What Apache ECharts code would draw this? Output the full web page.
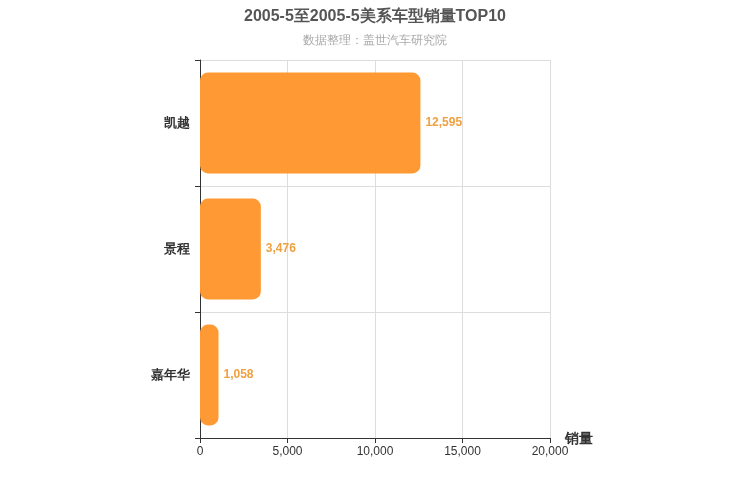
<!DOCTYPE html>
<html><head><meta charset="utf-8">
<script src="https://cdn.jsdelivr.net/npm/echarts@6/dist/echarts.min.js"></script>
</head><body style="margin:0">
<div id="c" style="width:750px;height:500px"></div>
<script>
const categories = ['凯越', '景程', '嘉年华'];
const values = [12595, 3476, 1058];
const xTicks = [0, 5000, 10000, 15000, 20000];
const chart = echarts.init(document.getElementById('c'));
chart.setOption({
  title: {
    text: '2005-5至2005-5美系车型销量TOP10', subtext: '数据整理：盖世汽车研究院', left: 'center', top: 4,
    textStyle: {fontSize: 16, fontWeight: 'bold', color: '#555'},
    subtextStyle: {fontSize: 12, color: '#aaa'}, itemGap: 10
  },
  grid: {left: 200, right: 200, top: 60, bottom: 62},
  xAxis: {
    type: 'value', min: xTicks[0], max: xTicks[xTicks.length - 1], interval: 5000,
    name: '销量', nameGap: 15, nameTextStyle: {fontSize: 14, fontWeight: 'bold', color: '#333', verticalAlign: 'top', padding: [-6, 0, 0, 0]},
    axisLine: {show: true, lineStyle: {color: '#333'}}, axisTick: {show: true},
    axisLabel: {color: '#333'}, splitLine: {lineStyle: {color: '#ddd'}}
  },
  yAxis: {
    type: 'category', data: categories, inverse: true,
    axisLine: {lineStyle: {color: '#333'}}, axisTick: {show: true, length: 5},
    axisLabel: {fontSize: 13, fontWeight: 'bold', color: '#333', margin: 10, padding: [5, 0, 0, 0]},
    splitLine: {show: true, lineStyle: {color: '#ddd'}}
  },
  series: [{
    type: 'bar', data: values, barWidth: '80%',
    itemStyle: {color: '#ff9933', borderRadius: 8},
    label: {show: true, position: 'right', color: '#f0a040', fontWeight: 'bold', fontSize: 12, padding: [5, 0, 0, 0],
      formatter: p => p.value.toLocaleString('en-US')}
  }]
});
</script></body></html>
